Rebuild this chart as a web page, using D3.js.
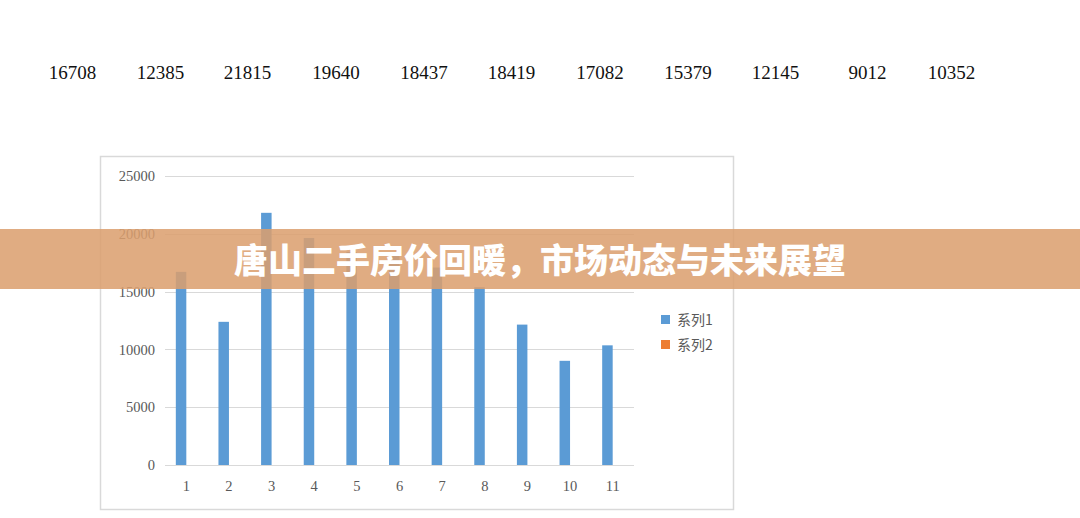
<!DOCTYPE html>
<html><head><meta charset="utf-8">
<script src="https://cdn.jsdelivr.net/npm/d3@7"></script>
<style>html,body{margin:0;padding:0;background:#fff;}svg{display:block;}</style>
</head><body>
<script>
const categories = ["1","2","3","4","5","6","7","8","9","10","11"];
const series1 = [16708,12385,21815,19640,18437,18419,17082,15379,12145,9012,10352];
const series2 = [0,0,0,0,0,0,0,0,0,0,0];
const seriesNames = ["系列1","系列2"];
const yTicks = [0,5000,10000,15000,20000,25000];
const topLabels = ["16708","12385","21815","19640","18437","18419","17082","15379","12145","9012","10352"];
const topLabelX = [72.5,160.5,247.5,336,424,511.5,600,688,775.5,867.5,951.5];
const title = "唐山二手房价回暖，市场动态与未来展望";

const W=1080,H=518;
const svg=d3.select("body").append("svg").attr("width",W).attr("height",H);
svg.append("rect").attr("width",W).attr("height",H).attr("fill","#fff");

// top row of numbers
svg.append("g").selectAll("text").data(topLabels).join("text")
  .attr("x",(d,i)=>topLabelX[i]).attr("y",79).attr("text-anchor","middle")
  .attr("font-family","'Liberation Serif','Times New Roman',serif").attr("font-size",19)
  .attr("fill","#111").text(d=>d);

// chart frame
svg.append("rect").attr("x",100.5).attr("y",156.5).attr("width",633).attr("height",353)
  .attr("fill","#fff").attr("stroke","#d9d9d9").attr("stroke-width",1.5);

const x=d3.scaleBand().domain(categories).range([165,634]);
const y=d3.scaleLinear().domain([0,25000]).range([465,176]);
const serif="'Liberation Serif','Times New Roman',serif";

// gridlines
svg.append("g").selectAll("line").data(yTicks).join("line")
  .attr("x1",165).attr("x2",634).attr("y1",d=>Math.round(y(d))+0.5).attr("y2",d=>Math.round(y(d))+0.5)
  .attr("stroke","#d9d9d9").attr("stroke-width",1.2);

// y axis labels
const yAxis=d3.axisLeft(y).tickValues(yTicks).tickSize(0).tickPadding(10).tickFormat(d3.format("d"));
const gy=svg.append("g").attr("transform","translate(165,0)").call(yAxis);
gy.select(".domain").remove();
gy.selectAll("text").attr("font-family",serif).attr("font-size",14.5).attr("fill","#595959");

// x axis labels
const xAxis=d3.axisBottom(x).tickSize(0).tickPadding(16);
const gx=svg.append("g").attr("transform","translate(0,465)").call(xAxis);
gx.select(".domain").remove();
gx.selectAll("text").attr("font-family",serif).attr("font-size",14.5).attr("fill","#595959");

// bars
const bw=10.5;
const x1=d3.scaleBand().domain([0,1]).range([-bw,bw]);
const colors=["#5b9bd5","#ed7d31"];
[series1,series2].forEach((s,k)=>{
  svg.append("g").selectAll("rect").data(s).join("rect")
    .attr("x",(d,i)=>x(categories[i])+x.bandwidth()/2+x1(k))
    .attr("y",d=>y(d)).attr("width",x1.bandwidth())
    .attr("height",d=>y(0)-y(d)).attr("fill",colors[k]);
});

// legend
const lg=svg.append("g").attr("transform","translate(661,315)");
seriesNames.forEach((n,i)=>{
  lg.append("rect").attr("x",0).attr("y",i*25).attr("width",9).attr("height",9).attr("fill",colors[i]);
  lg.append("text").attr("x",16).attr("y",i*25+10).attr("font-family","'Noto Sans CJK SC',sans-serif")
    .attr("font-size",14).attr("fill","#595959").text(n);
});

// banner
svg.append("rect").attr("x",0).attr("y",229).attr("width",W).attr("height",60)
  .attr("fill","rgb(219,158,110)").attr("fill-opacity",0.86);
svg.append("text").attr("x",540).attr("y",273).attr("text-anchor","middle")
  .attr("font-family","'Noto Sans CJK SC',sans-serif").attr("font-weight",900)
  .attr("font-size",34).attr("fill","#fff").text(title);
</script>
</body></html>
